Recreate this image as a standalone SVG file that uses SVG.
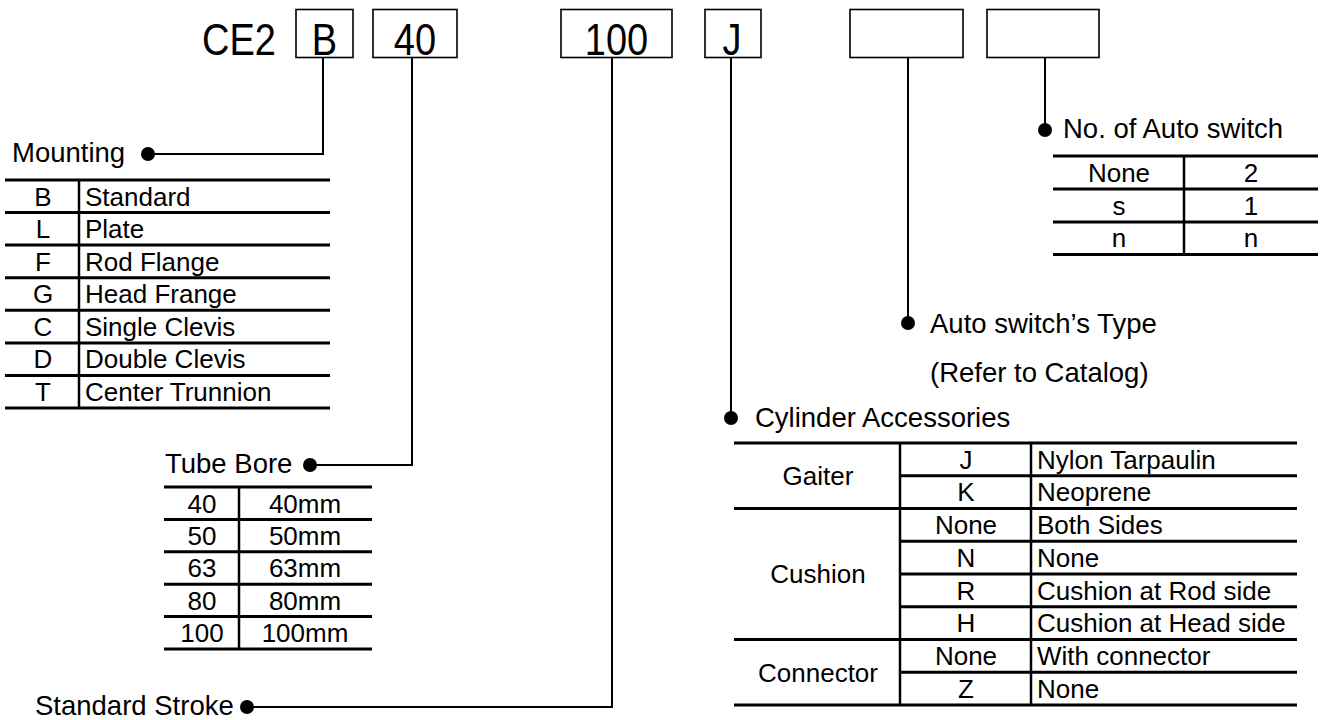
<svg xmlns="http://www.w3.org/2000/svg" width="1325" height="720" viewBox="0 0 1325 720">
<style>
text{font-family:"Liberation Sans",Arial,sans-serif;fill:#000}
.big{font-size:38px}
.lbl{font-size:27.5px}
.cell{font-size:26px}
.c{text-anchor:middle}
.box{fill:none;stroke:#000;stroke-width:1.6}
.hl{stroke:#000;stroke-width:3}
.vl{stroke:#000;stroke-width:2.5}
.con{fill:none;stroke:#000;stroke-width:2}
.dot{fill:#000}
</style>
<rect width="1325" height="720" fill="#fff"/>
<g id="code">
<text class="big" transform="translate(202,55) scale(1,1.18)">CE2</text>
</g>
<g id="box-mounting"><rect class="box" x="296" y="9.5" width="57" height="48"/><text class="big c" transform="translate(324.5,55) scale(1,1.18)">B</text></g>
<g id="box-bore"><rect class="box" x="373" y="9.5" width="84" height="48"/><text class="big c" transform="translate(415,55) scale(1,1.18)">40</text></g>
<g id="box-stroke"><rect class="box" x="561" y="9.5" width="111" height="48"/><text class="big c" transform="translate(616.5,55) scale(1,1.18)">100</text></g>
<g id="box-acc"><rect class="box" x="705" y="9.5" width="56" height="48"/><text class="big c" transform="translate(732,55) scale(1,1.18)">J</text></g>
<g id="box-swtype"><rect class="box" x="850" y="9.5" width="113" height="48"/></g>
<g id="box-swno"><rect class="box" x="987" y="9.5" width="112" height="48"/></g>

<g id="connectors">
<path class="con" d="M323,57.5 V154 H148"/>
<circle class="dot" cx="148" cy="154" r="7"/>
<path class="con" d="M412,57.5 V465 H310"/>
<circle class="dot" cx="310" cy="465" r="7"/>
<path class="con" d="M612,57.5 V707 H247"/>
<circle class="dot" cx="247" cy="707" r="7"/>
<path class="con" d="M731,57.5 V418"/>
<circle class="dot" cx="731" cy="418" r="7"/>
<path class="con" d="M908,57.5 V323"/>
<circle class="dot" cx="908" cy="323" r="7"/>
<path class="con" d="M1045,57.5 V130"/>
<circle class="dot" cx="1045" cy="130" r="7"/>
</g>

<g id="mounting">
<text class="lbl" x="12" y="162">Mounting</text>
<g>
<line class="hl" x1="5" y1="180" x2="330" y2="180"/>
<line class="hl" x1="5" y1="212.6" x2="330" y2="212.6"/>
<line class="hl" x1="5" y1="245.1" x2="330" y2="245.1"/>
<line class="hl" x1="5" y1="277.7" x2="330" y2="277.7"/>
<line class="hl" x1="5" y1="310.3" x2="330" y2="310.3"/>
<line class="hl" x1="5" y1="342.9" x2="330" y2="342.9"/>
<line class="hl" x1="5" y1="375.4" x2="330" y2="375.4"/>
<line class="hl" x1="5" y1="408" x2="330" y2="408"/>
<line class="vl" x1="79" y1="180" x2="79" y2="408"/>
</g>
<text class="cell c" x="43" y="205.6">B</text><text class="cell" x="85" y="205.6">Standard</text>
<text class="cell c" x="43" y="238.2">L</text><text class="cell" x="85" y="238.2">Plate</text>
<text class="cell c" x="43" y="270.7">F</text><text class="cell" x="85" y="270.7">Rod Flange</text>
<text class="cell c" x="43" y="303.3">G</text><text class="cell" x="85" y="303.3">Head Frange</text>
<text class="cell c" x="43" y="335.9">C</text><text class="cell" x="85" y="335.9">Single Clevis</text>
<text class="cell c" x="43" y="368.4">D</text><text class="cell" x="85" y="368.4">Double Clevis</text>
<text class="cell c" x="43" y="401">T</text><text class="cell" x="85" y="401">Center Trunnion</text>
</g>

<g id="bore">
<text class="lbl" x="165" y="473">Tube Bore</text>
<line class="hl" x1="164" y1="487" x2="372" y2="487"/>
<line class="hl" x1="164" y1="519.4" x2="372" y2="519.4"/>
<line class="hl" x1="164" y1="551.8" x2="372" y2="551.8"/>
<line class="hl" x1="164" y1="584.2" x2="372" y2="584.2"/>
<line class="hl" x1="164" y1="616.6" x2="372" y2="616.6"/>
<line class="hl" x1="164" y1="649" x2="372" y2="649"/>
<line class="vl" x1="239" y1="487" x2="239" y2="649"/>
<text class="cell c" x="202" y="512.5">40</text><text class="cell c" x="305" y="512.5">40mm</text>
<text class="cell c" x="202" y="544.9">50</text><text class="cell c" x="305" y="544.9">50mm</text>
<text class="cell c" x="202" y="577.3">63</text><text class="cell c" x="305" y="577.3">63mm</text>
<text class="cell c" x="202" y="609.7">80</text><text class="cell c" x="305" y="609.7">80mm</text>
<text class="cell c" x="202" y="642.1">100</text><text class="cell c" x="305" y="642.1">100mm</text>
</g>

<g id="stroke">
<text class="lbl" x="35" y="715">Standard Stroke</text>
</g>

<g id="accessories">
<text class="lbl" x="755" y="427">Cylinder Accessories</text>
<line class="hl" x1="734" y1="443" x2="1297" y2="443"/>
<line class="hl" x1="900" y1="475.75" x2="1297" y2="475.75"/>
<line class="hl" x1="734" y1="508.5" x2="1297" y2="508.5"/>
<line class="hl" x1="900" y1="541.25" x2="1297" y2="541.25"/>
<line class="hl" x1="900" y1="574" x2="1297" y2="574"/>
<line class="hl" x1="900" y1="606.75" x2="1297" y2="606.75"/>
<line class="hl" x1="734" y1="639.5" x2="1297" y2="639.5"/>
<line class="hl" x1="900" y1="672.25" x2="1297" y2="672.25"/>
<line class="hl" x1="734" y1="705" x2="1297" y2="705"/>
<line class="vl" x1="900" y1="443" x2="900" y2="705"/>
<line class="vl" x1="1031" y1="443" x2="1031" y2="705"/>
<text class="cell c" x="818" y="485">Gaiter</text>
<text class="cell c" x="818" y="583.3">Cushion</text>
<text class="cell c" x="818" y="681.5">Connector</text>
<text class="cell c" x="966" y="468.7">J</text><text class="cell" x="1037" y="468.7">Nylon Tarpaulin</text>
<text class="cell c" x="966" y="501.4">K</text><text class="cell" x="1037" y="501.4">Neoprene</text>
<text class="cell c" x="966" y="534.2">None</text><text class="cell" x="1037" y="534.2">Both Sides</text>
<text class="cell c" x="966" y="566.9">N</text><text class="cell" x="1037" y="566.9">None</text>
<text class="cell c" x="966" y="599.7">R</text><text class="cell" x="1037" y="599.7">Cushion at Rod side</text>
<text class="cell c" x="966" y="632.4">H</text><text class="cell" x="1037" y="632.4">Cushion at Head side</text>
<text class="cell c" x="966" y="665.2">None</text><text class="cell" x="1037" y="665.2">With connector</text>
<text class="cell c" x="966" y="697.9">Z</text><text class="cell" x="1037" y="697.9">None</text>
</g>

<g id="switch-type">
<text class="lbl" x="930" y="333">Auto switch’s Type</text>
<text class="lbl" x="930" y="382">(Refer to Catalog)</text>
</g>

<g id="switch-no">
<text class="lbl" x="1063" y="138">No. of Auto switch</text>
<line class="hl" x1="1053" y1="156" x2="1318" y2="156"/>
<line class="hl" x1="1053" y1="189" x2="1318" y2="189"/>
<line class="hl" x1="1053" y1="222" x2="1318" y2="222"/>
<line class="hl" x1="1053" y1="254.5" x2="1318" y2="254.5"/>
<line class="vl" x1="1184" y1="156" x2="1184" y2="254.5"/>
<text class="cell c" x="1119" y="181.5">None</text><text class="cell c" x="1251" y="181.5">2</text>
<text class="cell c" x="1119" y="214.5">s</text><text class="cell c" x="1251" y="214.5">1</text>
<text class="cell c" x="1119" y="247">n</text><text class="cell c" x="1251" y="247">n</text>
</g>
</svg>
